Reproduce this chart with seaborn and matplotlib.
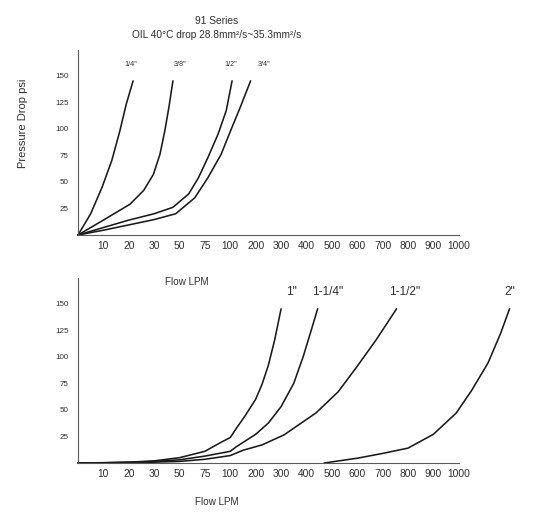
import numpy as np
import pandas as pd
import matplotlib
matplotlib.use("Agg")
import matplotlib.pyplot as plt
import seaborn as sns

# ---------------- data ----------------
TICK_VALUES = [10, 20, 30, 50, 75, 100, 200, 300, 400, 500, 600, 700, 800, 900, 1000]
Y_TICKS = [25, 50, 75, 100, 125, 150]

top_sizes = ['1/4"', '3/8"', '1/2"', '3/4"']
flow_q14 = [0, 5, 9.5, 13.3, 16.5, 19, 21.7]
psi_q14 = [0, 20, 45, 70, 98, 123, 145]
flow_q38 = [0, 10, 20.5, 25.9, 29.7, 34.6, 38.4, 41.6, 44.8]
psi_q38 = [0, 14, 29, 42, 57, 76, 98, 120, 145]
flow_q12 = [0, 10, 20, 30, 44.7, 59, 68.7, 78, 88, 96, 107]
psi_q12 = [0, 7, 14, 20, 26, 38.6, 54, 73, 95, 117, 145]
flow_q34 = [0, 10, 20, 30, 47, 65, 78, 91, 101, 139, 180]
psi_q34 = [0, 4.5, 9.5, 14.5, 20, 35, 54, 76, 98, 120, 145]

bottom_sizes = ['1"', '1-1/4"', '1-1/2"', '2"']
flow_1 = [0, 10, 20, 30, 50, 75, 90, 100, 125, 160, 200, 225, 250, 275, 300]
psi_1 = [0, 0.3, 0.8, 2, 5, 11, 19, 24, 33, 45, 60, 74, 92, 116, 145]
flow_114 = [0, 10, 20, 30, 50, 75, 100, 125, 200, 250, 300, 350, 387, 419, 444]
psi_114 = [0, 0.2, 0.6, 1.5, 3, 6.5, 11, 15.5, 27, 37.6, 53, 75, 100, 125, 145]
flow_112 = [0, 10, 20, 30, 50, 75, 100, 150, 225, 312, 437, 525, 600, 675, 755]
psi_112 = [0, 0.1, 0.4, 0.8, 1.5, 3.5, 7, 12, 17, 26.5, 47, 67, 91, 116, 145]
flow_2 = [470, 600, 700, 800, 900, 990, 1050, 1115, 1165, 1200]
psi_2 = [0, 4.5, 9, 14, 27, 47, 68, 94, 122, 145]


def long_df(sizes, flows, psis):
    frames = []
    for s, f, p in zip(sizes, flows, psis):
        frames.append(pd.DataFrame({"size": s, "flow": f, "psi": p}))
    return pd.concat(frames, ignore_index=True)


df_top = long_df(top_sizes, [flow_q14, flow_q38, flow_q12, flow_q34],
                 [psi_q14, psi_q38, psi_q12, psi_q34])
df_bot = long_df(bottom_sizes, [flow_1, flow_114, flow_112, flow_2],
                 [psi_1, psi_114, psi_112, psi_2])

# piecewise "equal-spacing" flow scale
SCALE_KNOTS = [0] + TICK_VALUES + [2000]
SCALE_POS = list(range(16)) + [25]


def fwd(x):
    return np.interp(np.asarray(x, dtype=float), SCALE_KNOTS, SCALE_POS)


def inv(p):
    return np.interp(np.asarray(p, dtype=float), SCALE_POS, SCALE_KNOTS)


# ---------------- style ----------------
sns.set_theme(style="white")
plt.rcParams["font.family"] = ["Liberation Sans", "DejaVu Sans"]
TXT = "#2e2e2e"
LINE = "#1a1a1a"
AX = "#5a5a5a"

W, H = 546, 515
fig = plt.figure(figsize=(W / 100, H / 100), dpi=100)
fig.patch.set_facecolor("white")

left = 78 / W
width = (540 - 78) / W
ax1 = fig.add_axes([left, 1 - 235 / H, width, 185 / H])
ax2 = fig.add_axes([left, 1 - 463 / H, width, 185 / H])

for ax, df in ((ax1, df_top), (ax2, df_bot)):
    sns.lineplot(data=df, x="flow", y="psi", units="size", estimator=None,
                 sort=False, color=LINE, linewidth=1.15, ax=ax, legend=False)
    ax.set_xscale("function", functions=(fwd, inv))
    ax.set_xlim(0, float(inv(18.2)))
    ax.set_ylim(0, 174)
    ax.set_xticks(TICK_VALUES)
    ax.set_xticklabels([str(v) for v in TICK_VALUES])
    ax.set_yticks(Y_TICKS)
    ax.set_yticklabels([str(v) for v in Y_TICKS])
    ax.minorticks_off()
    ax.set_xlabel("")
    ax.set_ylabel("")
    for s in ("top", "right"):
        ax.spines[s].set_visible(False)
    for s in ("left", "bottom"):
        ax.spines[s].set_color(AX)
        ax.spines[s].set_linewidth(0.8)
    ax.spines["bottom"].set_bounds(0, 1000)
    ax.tick_params(axis="x", direction="out", length=3, width=0.6, colors=AX,
                   labelsize=7.4, labelcolor=TXT, pad=1.5)
    ax.tick_params(axis="y", direction="out", length=4.5, width=0.6, colors=AX,
                   labelsize=5.8, labelcolor=TXT, pad=2)
    ax.set_facecolor("white")
    for line in ax.lines:
        line.set_clip_on(False)

# curve labels, top panel
for txt, xv in zip(top_sizes, [20.8, 51, 102, 232]):
    ax1.text(xv, 160, txt, ha="center", va="center", fontsize=5.2, color=TXT)
# curve labels, bottom panel
for txt, xv in zip(bottom_sizes, [340, 485, 785, 1200]):
    ax2.text(xv, 161, txt, ha="center", va="center", fontsize=8.6, color=TXT,
             clip_on=False)

fig.text(216.7 / W, 1 - 21 / H, "91 Series", ha="center", va="center",
         fontsize=7.4, color=TXT)
fig.text(216.7 / W, 1 - 35 / H, "OIL 40°C drop 28.8mm²/s~35.3mm²/s",
         ha="center", va="center", fontsize=7.3, color=TXT)
fig.text(23 / W, 1 - 123 / H, "Pressure Drop psi", rotation=90,
         ha="center", va="center", fontsize=8.0, color=TXT)
fig.text(187 / W, 1 - 282 / H, "Flow LPM", ha="center", va="center",
         fontsize=7.1, color=TXT)
fig.text(216.7 / W, 1 - 502 / H, "Flow LPM", ha="center", va="center",
         fontsize=7.1, color=TXT)

fig.savefig("out.png", dpi=100, facecolor="white")
